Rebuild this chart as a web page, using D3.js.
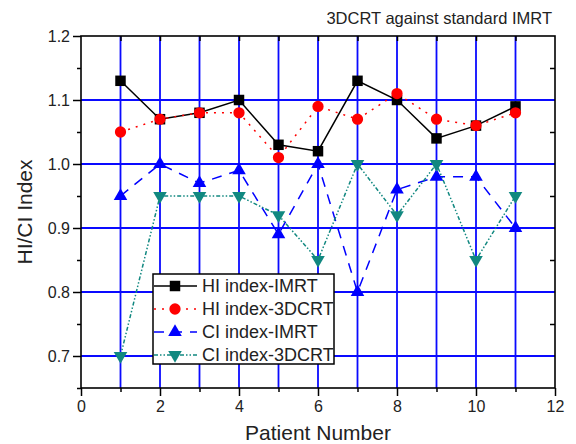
<!DOCTYPE html>
<html>
<head>
<meta charset="utf-8">
<script src="https://cdn.jsdelivr.net/npm/d3@7/dist/d3.min.js"></script>
<style>
  html, body { margin: 0; padding: 0; background: #fff; }
  svg { display: block; font-family: Arial, "Liberation Sans", Helvetica, sans-serif; }
</style>
</head>
<body>
<svg id="chart" width="576" height="444"></svg>
<script>
// Patient numbers
const patients = [1, 2, 3, 4, 5, 6, 7, 8, 9, 10, 11];

// Homogeneity / conformity indices per patient
const hiIMRT   = [1.13, 1.07, 1.08, 1.10, 1.03, 1.02, 1.13, 1.10, 1.04, 1.06, 1.09];
const hi3DCRT  = [1.05, 1.07, 1.08, 1.08, 1.01, 1.09, 1.07, 1.11, 1.07, 1.06, 1.08];
const ciIMRT   = [0.95, 1.00, 0.97, 0.99, 0.89, 1.00, 0.80, 0.96, 0.98, 0.98, 0.90];
const ci3DCRT  = [0.70, 0.95, 0.95, 0.95, 0.92, 0.85, 1.00, 0.92, 1.00, 0.85, 0.95];

const seriesNames = ["HI index-IMRT", "HI index-3DCRT", "CI index-IMRT", "CI index-3DCRT"];

// Axis ticks
const xTicks = [0, 2, 4, 6, 8, 10, 12];
const yTicks = [0.7, 0.8, 0.9, 1.0, 1.1, 1.2];

const titleText = "3DCRT against standard IMRT";
const xLabel = "Patient Number";
const yLabel = "HI/CI Index";

const svg = d3.select("#chart");
const plot = { left: 81, right: 555, top: 36, bottom: 388 };

const x = d3.scaleLinear().domain([0, 12]).range([plot.left, plot.right]);
const y = d3.scaleLinear().domain([0.65, 1.2]).range([plot.bottom, plot.top]);

const gridBlue = "#0a0aff";

// Grid lines
const grid = svg.append("g");
grid.selectAll("line.v").data(d3.range(1, 12)).join("line")
  .attr("x1", d => x(d)).attr("x2", d => x(d))
  .attr("y1", plot.top).attr("y2", plot.bottom)
  .attr("stroke", gridBlue).attr("stroke-width", 1.8);
grid.selectAll("line.h").data([0.7, 0.8, 0.9, 1.0, 1.1]).join("line")
  .attr("x1", plot.left).attr("x2", plot.right)
  .attr("y1", d => y(d)).attr("y2", d => y(d))
  .attr("stroke", gridBlue).attr("stroke-width", 1.8);

// Axes
const xAxis = svg.append("g").attr("transform", `translate(0,${plot.bottom})`)
  .call(d3.axisBottom(x).tickValues(xTicks).tickSize(8).tickPadding(5).tickFormat(d3.format("d")));
const xMinor = svg.append("g").attr("transform", `translate(0,${plot.bottom})`)
  .call(d3.axisBottom(x).tickValues(d3.range(1, 12, 2)).tickSize(4).tickFormat(""));
const yAxis = svg.append("g").attr("transform", `translate(${plot.left},0)`)
  .call(d3.axisLeft(y).tickValues(yTicks).tickSize(8).tickPadding(3).tickFormat(d3.format(".1f")));
const yMinor = svg.append("g").attr("transform", `translate(${plot.left},0)`)
  .call(d3.axisLeft(y).tickValues([0.65, 0.75, 0.85, 0.95, 1.05, 1.15]).tickSize(4).tickFormat(""));
const yRight = svg.append("g").attr("transform", `translate(${plot.right},0)`)
  .call(d3.axisLeft(y).tickValues([0.75, 0.85, 0.95, 1.05, 1.15]).tickSize(5).tickFormat(""));
const xTop = svg.append("g").attr("transform", `translate(0,${plot.top})`)
  .call(d3.axisBottom(x).tickValues(d3.range(1, 12)).tickSize(5).tickFormat(""));

[xAxis, xMinor, yAxis, yMinor, yRight, xTop].forEach(g => {
  g.select(".domain").remove();
  g.selectAll(".tick line").attr("stroke", "#000").attr("stroke-width", 1.5);
  g.selectAll(".tick text").attr("fill", "#222").style("font-size", "16px")
    .style("font-family", "Arial, 'Liberation Sans', sans-serif");
});
yRight.selectAll(".tick line").attr("x2", -5);
xTop.selectAll(".tick line").attr("y2", 5);

// Frame
svg.append("rect")
  .attr("x", plot.left).attr("y", plot.top)
  .attr("width", plot.right - plot.left).attr("height", plot.bottom - plot.top)
  .attr("fill", "none").attr("stroke", "#000").attr("stroke-width", 1.6);

// Series definitions
const series = [
  { name: seriesNames[0], values: hiIMRT,  color: "#000000", dash: null,          symbol: d3.symbolSquare,   size: 110, rot: 0 },
  { name: seriesNames[1], values: hi3DCRT, color: "#ff0000", dash: "2,6",         symbol: d3.symbolCircle,   size: 100, rot: 0 },
  { name: seriesNames[2], values: ciIMRT,  color: "#0000ff", dash: "10,8",        symbol: d3.symbolTriangle, size: 80,  rot: 0 },
  { name: seriesNames[3], values: ci3DCRT, color: "#118880", dash: "4,2,1.5,2,1.5,2", symbol: d3.symbolTriangle, size: 80, rot: 180 }
];

const line = d3.line().x(d => x(d.p)).y(d => y(d.v));

series.forEach(s => {
  const pts = patients.map((p, i) => ({ p, v: s.values[i] }));
  svg.append("path")
    .datum(pts)
    .attr("d", line)
    .attr("fill", "none")
    .attr("stroke", s.color)
    .attr("stroke-width", 1.5)
    .attr("stroke-dasharray", s.dash);
});

series.forEach(s => {
  const pts = patients.map((p, i) => ({ p, v: s.values[i] }));
  svg.append("g").selectAll("path").data(pts).join("path")
    .attr("d", d3.symbol().type(s.symbol).size(s.size))
    .attr("transform", d => `translate(${x(d.p)},${y(d.v)}) rotate(${s.rot})`)
    .attr("fill", s.color);
});

// Legend
const lg = svg.append("g").attr("transform", "translate(153,274)");
lg.append("rect").attr("width", 181).attr("height", 90)
  .attr("fill", "#fff").attr("stroke", "#000").attr("stroke-width", 1.5);
series.forEach((s, i) => {
  const cy = 12 + i * 23;
  lg.append("line").attr("x1", 1).attr("x2", 44).attr("y1", cy).attr("y2", cy)
    .attr("stroke", s.color).attr("stroke-width", 1.5).attr("stroke-dasharray", s.dash);
  lg.append("path")
    .attr("d", d3.symbol().type(s.symbol).size(s.size))
    .attr("transform", `translate(22,${cy}) rotate(${s.rot})`)
    .attr("fill", s.color);
  lg.append("text").attr("x", 49).attr("y", cy).attr("dy", "0.36em")
    .attr("fill", "#222").style("font-size", "18px").text(s.name);
});

// Title and axis labels
svg.append("text").attr("x", 552).attr("y", 24).attr("text-anchor", "end")
  .attr("fill", "#222").style("font-size", "16.5px").text(titleText);
svg.append("text").attr("x", (plot.left + plot.right) / 2).attr("y", 440)
  .attr("text-anchor", "middle").attr("fill", "#222").style("font-size", "21px").text(xLabel);
svg.append("text").attr("transform", `translate(32,${(plot.top + plot.bottom) / 2}) rotate(-90)`)
  .attr("text-anchor", "middle").attr("fill", "#222").style("font-size", "21px").text(yLabel);
</script>
</body>
</html>
